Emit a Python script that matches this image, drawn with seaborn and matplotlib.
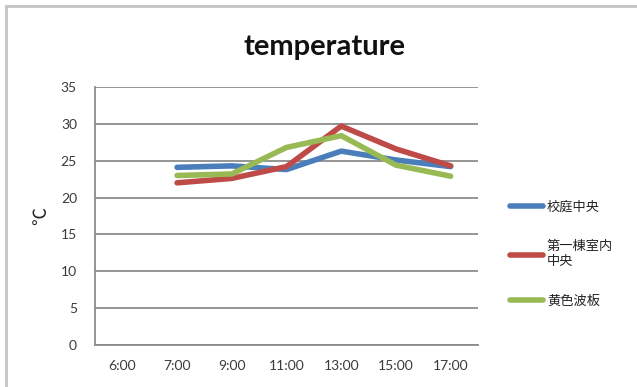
import matplotlib
matplotlib.use("Agg")
import matplotlib.pyplot as plt
import seaborn as sns
import pandas as pd
import numpy as np
from matplotlib.patches import Rectangle
from matplotlib.lines import Line2D

times = ["6:00", "7:00", "9:00", "11:00", "13:00", "15:00", "17:00"]
series_names = ["校庭中央", "第一棟室内\n中央", "黄色波板"]
blue_vals = [np.nan, 24.1, 24.3, 23.8, 26.3, 25.1, 24.2]
red_vals = [np.nan, 22.0, 22.6, 24.2, 29.7, 26.6, 24.3]
green_vals = [np.nan, 23.0, 23.2, 26.8, 28.4, 24.4, 22.9]
yticks = [0, 5, 10, 15, 20, 25, 30, 35]
title = "temperature"
ylabel = "℃"

colors = ["#4A7EBB", "#BE4B48", "#98B954"]

sns.set_style("white")
plt.rcParams["font.family"] = ["Lato", "Noto Sans CJK JP", "DejaVu Sans"]

rows = []
for name, vals in zip(series_names, [blue_vals, red_vals, green_vals]):
    for i, (t, v) in enumerate(zip(times, vals)):
        rows.append({"pos": i, "time": t, "series": name, "value": v})
df = pd.DataFrame(rows)

fig = plt.figure(figsize=(6.37, 3.87), dpi=100)
ax = fig.add_axes([95/637, 1-345/387, 383/637, 258/387])

sns.lineplot(data=df.dropna(), x="pos", y="value", hue="series",
             hue_order=series_names, palette=colors, linewidth=4.0,
             ax=ax, legend=False, sort=True)

ax.set_xlim(-0.5, len(times) - 0.5)
ax.set_ylim(0, 35)
ax.set_yticks(yticks)
ax.set_xticks(range(len(times)))
ax.set_xticklabels(times)
ax.tick_params(axis="both", length=0, labelsize=10, labelcolor="#3a3a3a")
ax.tick_params(axis="y", pad=13)
ax.tick_params(axis="x", pad=11)
ax.grid(axis="y", color="#8c8c8c", linewidth=1.3)
ax.set_axisbelow(True)
for s in ["top", "right"]:
    ax.spines[s].set_visible(False)
for s in ["left", "bottom"]:
    ax.spines[s].set_color("#8c8c8c")
    ax.spines[s].set_linewidth(1.3)
ax.set_xlabel("")
ax.set_ylabel(ylabel, fontsize=13, color="#222222", rotation=90,
              family=["Noto Sans CJK JP", "DejaVu Sans"])
ax.yaxis.set_label_coords(-45/383, 0.50)

fig.text(325/637, 1-47/387, title, ha="center", va="center",
         fontsize=21, fontweight="bold", color="#111111")

handles = [Line2D([0], [0], color=c, lw=4.0) for c in colors]
leg = fig.legend(handles, series_names, loc="upper left",
                 bbox_to_anchor=(498/637, 1-189/387), frameon=False,
                 labelspacing=2.0, handlelength=2.5,
                 handletextpad=0.3, prop={"family": ["Noto Sans CJK JP", "DejaVu Sans"], "size": 9.5})
for t in leg.get_texts():
    t.set_color("#222222")

fig.patches.append(Rectangle((6/637, -0.1), 1.2, 1 - 6/387 + 0.1,
                             transform=fig.transFigure, fill=False,
                             edgecolor="#c4c4c4", linewidth=2))

fig.savefig("out.png", dpi=100)
